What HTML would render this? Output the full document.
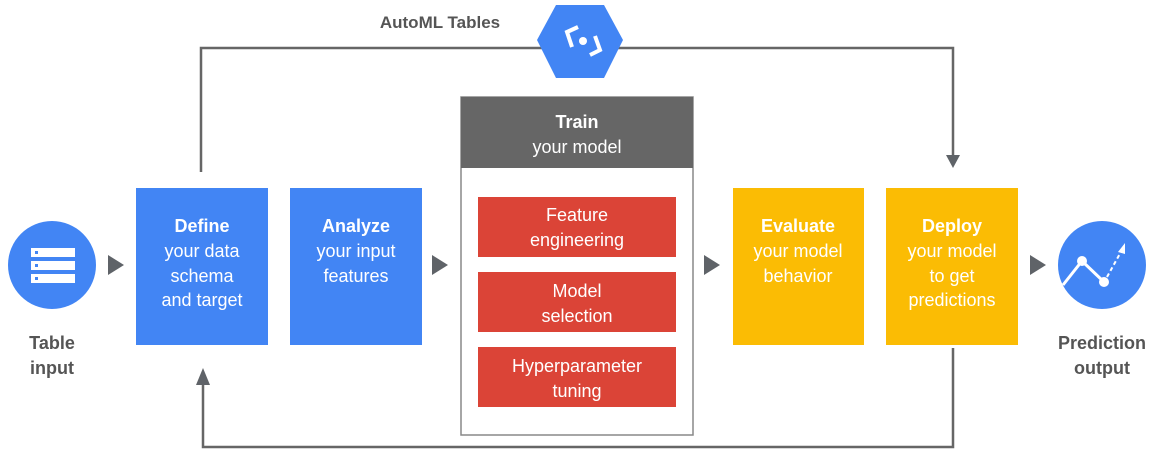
<!DOCTYPE html>
<html><head><style>
html,body{margin:0;padding:0;background:#fff}
svg{display:block}
text{font-family:"Liberation Sans",sans-serif}
</style></head><body>
<svg width="1165" height="455" viewBox="0 0 1165 455" xmlns="http://www.w3.org/2000/svg">
<g stroke="#666" stroke-width="2.5" fill="none">
<polyline points="201,172 201,48 953,48 953,158"/>
<polyline points="953,348 953,447 203,447 203,385"/>
</g>
<g fill="#5f6368">
<polygon points="946,155 960,155 953,168"/>
<polygon points="196,385 210,385 203,368"/>
<polygon points="108,255 108,275 124,265"/>
<polygon points="432,255 432,275 448,265"/>
<polygon points="704,255 704,275 720,265"/>
<polygon points="1030,255 1030,275 1046,265"/>
</g>
<text x="440" y="28" font-size="17" font-weight="bold" fill="#555" text-anchor="middle">AutoML Tables</text>
<polygon points="556,5 604,5 623,40 604,78 556,78 537,40" fill="#4285f4"/>
<g stroke="#fff" stroke-width="4" fill="none">
<polyline points="578,27 567,32 572,47"/>
<polyline points="590,55 600,50 595,36"/>
</g>
<circle cx="583" cy="41" r="4" fill="#fff"/>
<circle cx="52" cy="265" r="44" fill="#4285f4"/>
<g fill="#fff"><rect x="31" y="248" width="44" height="9"/><rect x="31" y="261" width="44" height="9"/><rect x="31" y="274" width="44" height="9"/></g>
<g fill="#4285f4"><rect x="35" y="251" width="3" height="3"/><rect x="35" y="264" width="3" height="3"/><rect x="35" y="277" width="3" height="3"/></g>
<text font-size="18" font-weight="bold" fill="#555" text-anchor="middle"><tspan x="52" y="349">Table</tspan><tspan x="52" y="374">input</tspan></text>
<rect x="136" y="188" width="132" height="157" fill="#4285f4"/>
<text font-size="18" fill="#fff" text-anchor="middle"><tspan x="202" y="232" font-weight="bold">Define</tspan><tspan x="202" y="257">your data</tspan><tspan x="202" y="282">schema</tspan><tspan x="202" y="306">and target</tspan></text>
<rect x="290" y="188" width="132" height="157" fill="#4285f4"/>
<text font-size="18" fill="#fff" text-anchor="middle"><tspan x="356" y="232" font-weight="bold">Analyze</tspan><tspan x="356" y="257">your input</tspan><tspan x="356" y="282">features</tspan></text>
<rect x="461" y="97" width="232" height="338" fill="#fff" stroke="#888" stroke-width="1.5"/>
<rect x="461" y="97" width="232" height="71" fill="#666"/>
<text font-size="18" fill="#fff" text-anchor="middle"><tspan x="577" y="128" font-weight="bold">Train</tspan><tspan x="577" y="153">your model</tspan></text>
<g fill="#db4437"><rect x="478" y="197" width="198" height="60"/><rect x="478" y="272" width="198" height="60"/><rect x="478" y="347" width="198" height="60"/></g>
<text font-size="18" fill="#fff" text-anchor="middle"><tspan x="577" y="221">Feature</tspan><tspan x="577" y="246">engineering</tspan><tspan x="577" y="297">Model</tspan><tspan x="577" y="322">selection</tspan><tspan x="577" y="372">Hyperparameter</tspan><tspan x="577" y="397">tuning</tspan></text>
<rect x="733" y="188" width="131" height="157" fill="#fbbc04"/>
<text font-size="18" fill="#fff" text-anchor="middle"><tspan x="798" y="232" font-weight="bold">Evaluate</tspan><tspan x="798" y="257">your model</tspan><tspan x="798" y="282">behavior</tspan></text>
<rect x="886" y="188" width="132" height="157" fill="#fbbc04"/>
<text font-size="18" fill="#fff" text-anchor="middle"><tspan x="952" y="232" font-weight="bold">Deploy</tspan><tspan x="952" y="257">your model</tspan><tspan x="952" y="282">to get</tspan><tspan x="952" y="306">predictions</tspan></text>
<circle cx="1102" cy="265" r="44" fill="#4285f4"/>
<polyline points="1063,285 1082,261 1104,282" stroke="#fff" stroke-width="3" fill="none"/>
<line x1="1107" y1="277" x2="1122" y2="250" stroke="#fff" stroke-width="2" stroke-dasharray="4,3"/>
<polygon points="1125,243 1118,252 1125,254" fill="#fff"/>
<circle cx="1082" cy="261" r="5" fill="#fff"/>
<circle cx="1104" cy="282" r="5" fill="#fff"/>
<text font-size="18" font-weight="bold" fill="#555" text-anchor="middle"><tspan x="1102" y="349">Prediction</tspan><tspan x="1102" y="374">output</tspan></text>
</svg>
</body></html>
